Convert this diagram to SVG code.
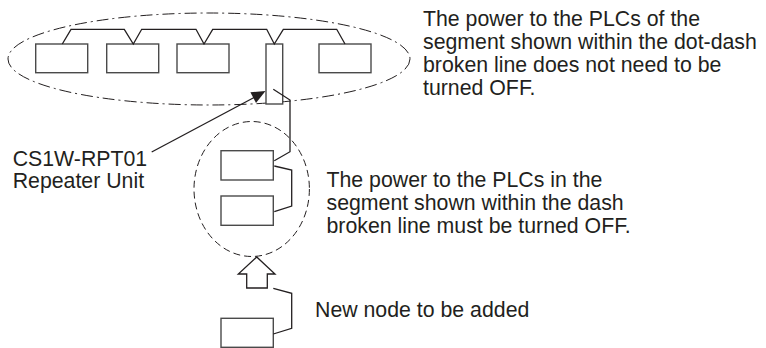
<svg xmlns="http://www.w3.org/2000/svg" width="766" height="348" viewBox="0 0 766 348">
<style>
.box{fill:#fff;stroke:#4a4a4a;stroke-width:1.4}
.ln{fill:none;stroke:#231f20;stroke-width:1.3;stroke-linejoin:miter}
.dd{fill:none;stroke:#231f20;stroke-width:1;stroke-dasharray:12 4 2 4}
.da{fill:none;stroke:#231f20;stroke-width:1;stroke-dasharray:7 4}
text{font-family:"Liberation Sans",Arial,Helvetica,sans-serif;font-size:21.3px;fill:#231f20}
</style>
<rect width="766" height="348" fill="#fff"/>
<g id="segment-dotdash"><ellipse class="dd" cx="209" cy="59" rx="201" ry="46"/></g>
<g id="segment-dash"><ellipse class="da" cx="251.7" cy="189" rx="57.7" ry="67.5"/></g>
<g id="plc1"><rect class="box" x="35.7" y="44" width="52" height="28.7"/></g>
<g id="plc2"><rect class="box" x="106.7" y="44" width="52" height="28.7"/></g>
<g id="plc3"><rect class="box" x="177" y="44" width="52" height="28.7"/></g>
<g id="repeater"><rect class="box" x="266" y="44" width="16.7" height="60"/></g>
<g id="plc5"><rect class="box" x="319" y="44" width="52" height="28.7"/></g>
<g id="plc6"><rect class="box" x="221" y="150.7" width="52.3" height="29.3"/></g>
<g id="plc7"><rect class="box" x="221" y="196" width="52.3" height="29.3"/></g>
<g id="new-node"><rect class="box" x="221" y="318.3" width="52.3" height="29"/></g>
<g id="add-arrow"><polygon class="ln" points="256.7,257 238.3,274 246.7,274 246.7,288 267.3,288 267.3,274 275,274"/></g>
<g id="connectors">
<polyline class="ln" points="62.3,44 71,29.3 124.3,29.3 133.3,44 141.7,29.3 196,29.3 204,44 212.7,29.3 266.7,29.3 274.3,44 283.3,29.3 336.7,29.3 345,44"/>
<polyline class="ln" points="273.3,89.3 290,100 290,151.7 274.3,160.7"/>
<polyline class="ln" points="274.3,166 291.7,170 291.7,206 274.3,211.7"/>
<polyline class="ln" points="273.3,288.3 291.7,293.3 291.7,328.3 273.3,334"/>
<line class="ln" x1="151.7" y1="152" x2="255" y2="97"/>
<polygon fill="#231f20" points="265.5,91 250.4,92.3 256,102.9"/>
</g>
<g id="labels">
<text x="423" y="25.5">The power to the PLCs of the</text>
<text x="423" y="48.8">segment shown within the dot-dash</text>
<text x="423" y="72.1">broken line does not need to be</text>
<text x="423" y="95.4">turned OFF.</text>
<text x="326.5" y="186.7">The power to the PLCs in the</text>
<text x="326.5" y="210">segment shown within the dash</text>
<text x="326.5" y="233.3">broken line must be turned OFF.</text>
<text x="12.7" y="166">CS1W-RPT01</text>
<text x="12.7" y="188">Repeater Unit</text>
<text x="315" y="316.7">New node to be added</text>
</g>
</svg>
